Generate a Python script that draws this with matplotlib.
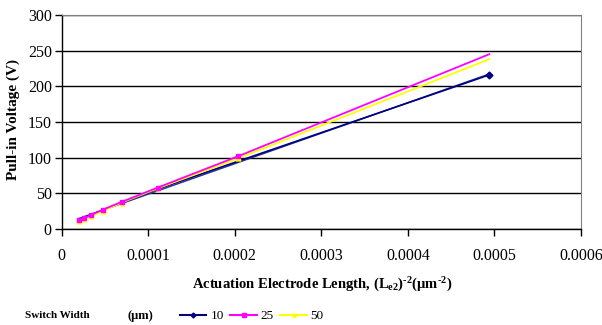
import matplotlib
matplotlib.use("Agg")
import matplotlib.pyplot as plt
import numpy as np
from matplotlib.lines import Line2D

plt.rcParams['font.family'] = ['Liberation Serif', 'DejaVu Serif']
plt.rcParams['mathtext.fontset'] = 'custom'
plt.rcParams['mathtext.rm'] = 'Liberation Serif:bold'
plt.rcParams['mathtext.it'] = 'Liberation Serif:bold'
plt.rcParams['mathtext.bf'] = 'Liberation Serif:bold'
plt.rcParams['axes.unicode_minus'] = False

# inverse squared electrode length (um^-2)
x_vals = [0.0000207, 0.0000263, 0.0000346, 0.0000476, 0.0000694, 0.000111, 0.000204, 0.000494]
v_10 = [13.5, 15.5, 20, 26.5, 37, 56, 95, 216]
v_25 = [12, 15, 20, 27, 38, 58, 102, 245]
v_50 = [11, 14, 18, 25, 37, 57, 99, 238]
series_labels = ['10', '25', '50']
x_ticks = [0, 0.0001, 0.0002, 0.0003, 0.0004, 0.0005, 0.0006]
x_tick_labels = ['0', '0.0001', '0.0002', '0.0003', '0.0004', '0.0005', '0.0006']
y_ticks = [0, 50, 100, 150, 200, 250, 300]

fig = plt.figure(figsize=(6.02, 3.25), dpi=100)
ax = fig.add_axes([61.5/602, 1-229/325, (581-61.5)/602, (229-15)/325])

x = np.array(x_vals)
# trendline for 10 um series
c = np.polyfit(x, v_10, 1)
ax.plot(x, np.polyval(c, x), color='#283593', lw=1.1, zorder=3)
ax.plot(x, v_10, color='#000080', lw=1.2, marker='D', ms=3.5, label=series_labels[0], zorder=4,
        markevery=[len(x)-1])
ax.plot(x, v_25, color='#ff00ff', lw=1.3, marker='s', ms=3.5, label=series_labels[1], zorder=5,
        markevery=list(range(len(x)-1)))
ax.plot(x, v_50, color='#ffff00', lw=1.3, marker='^', ms=3.5, label=series_labels[2], zorder=4,
        markevery=list(range(len(x)-1)))

ax.set_xlim(0, 0.0006)
ax.set_ylim(0, 300)
ax.set_xticks(x_ticks)
ax.set_xticklabels(x_tick_labels)
ax.set_yticks(y_ticks)
ax.yaxis.grid(True, color='black', lw=1)
ax.set_axisbelow(True)
ax.tick_params(axis='both', direction='out', length=5, width=1, color='black', labelsize=11.5)
ax.tick_params(axis='x', pad=9)
ax.tick_params(axis='y', pad=2)
for s in ['top', 'right']:
    ax.spines[s].set_color('#808080')
for s in ['left', 'bottom']:
    ax.spines[s].set_color('black')
    ax.spines[s].set_linewidth(1)

fig.text(13/602, 1-120/325, 'Pull-in Voltage (V)', rotation=90, ha='center', va='center',
         fontsize=11, fontweight='bold')
fig.text(322/602, 1-285/325,
         r'Actuation Electrode Length, (L$_{\text{e2}}$)$^{\text{-2}}$(μm$^{\text{-2}}$)',
         ha='center', va='center', fontsize=10.5, fontweight='bold')
fig.text(25/602, 1-316/325, 'Switch Width', ha='left', va='center', fontsize=8, fontweight='bold')
fig.text(128/602, 1-316/325, '(μm)', ha='left', va='center', fontsize=9, fontweight='bold')

handles = [Line2D([], [], color='#000080', marker='D', ms=2.5),
           Line2D([], [], color='#ff00ff', marker='s', ms=2.5),
           Line2D([], [], color='#ffff00', marker='^', ms=2.5)]
fig.legend(handles, series_labels, loc='center left', bbox_to_anchor=(180/602, 1-316/325),
           ncol=3, frameon=False, fontsize=9.5, handlelength=2.0, handletextpad=0.3,
           columnspacing=0.5, borderpad=0, borderaxespad=0)

fig.savefig('out.png', dpi=100)
